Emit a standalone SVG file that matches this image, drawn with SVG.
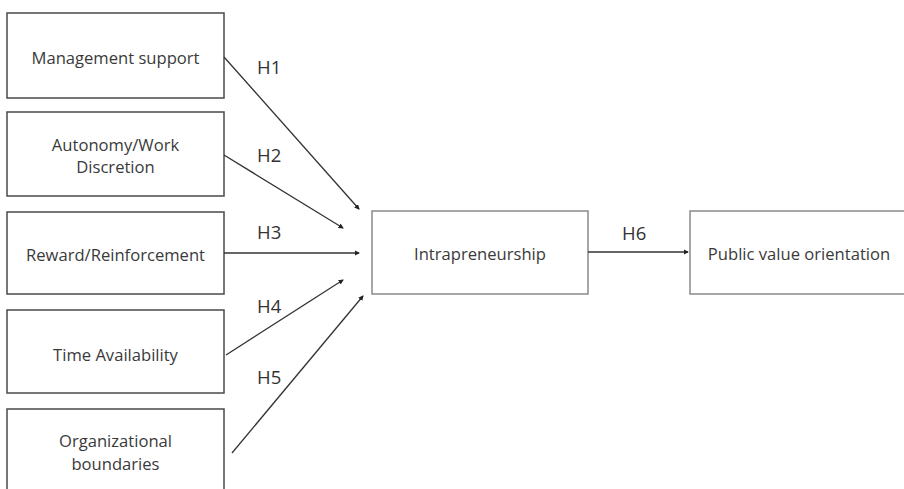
<svg xmlns="http://www.w3.org/2000/svg" width="904" height="489" viewBox="0 0 904 489">
<style>
.box{fill:#fff;stroke:#4a4a4a;stroke-width:1.5}
.box2{fill:#fff;stroke:#8a8a8a;stroke-width:1.5}
.t{font-family:"Open Sans",sans-serif;font-size:16.6px;fill:#3a3a3a;text-anchor:middle;dominant-baseline:central}
.h{font-family:"Open Sans",sans-serif;font-size:18.5px;fill:#333;}
.c{stroke:#333;stroke-width:1.3;fill:none;marker-end:url(#ah)}
</style>
<defs>
<marker id="ah" viewBox="0 0 6 6" refX="5" refY="3" markerWidth="4" markerHeight="4" orient="auto" markerUnits="strokeWidth">
<path d="M0,0 L6,3 L0,6 z" fill="#222"/>
</marker>
</defs>
<rect width="904" height="489" fill="#fff"/>
<g id="n1"><rect class="box" x="7" y="13" width="217" height="85"/><text class="t" x="115.5" y="57">Management support</text></g>
<g id="n2"><rect class="box" x="7" y="112" width="217" height="84"/><text class="t" x="115.5" y="144">Autonomy/Work</text><text class="t" x="115.5" y="166">Discretion</text></g>
<g id="n3"><rect class="box" x="7" y="212" width="217" height="82"/><text class="t" x="115.5" y="254">Reward/Reinforcement</text></g>
<g id="n4"><rect class="box" x="7" y="310" width="217" height="83"/><text class="t" x="115.5" y="354">Time Availability</text></g>
<g id="n5"><rect class="box" x="7" y="409" width="217" height="100"/><text class="t" x="115.5" y="440">Organizational</text><text class="t" x="115.5" y="463">boundaries</text></g>
<g id="n6"><rect class="box2" x="372" y="211" width="216" height="83"/><text class="t" x="480" y="253">Intrapreneurship</text></g>
<g id="n7"><rect class="box2" x="690" y="211" width="220" height="83"/><text class="t" x="799" y="253">Public value orientation</text></g>
<g id="connectors">
<line class="c" x1="224" y1="57" x2="359" y2="209"/>
<line class="c" x1="224" y1="155" x2="343" y2="228"/>
<line class="c" x1="224" y1="253" x2="359" y2="253"/>
<line class="c" x1="226" y1="355" x2="343" y2="280"/>
<line class="c" x1="232" y1="453" x2="363" y2="296"/>
<line class="c" x1="588" y1="252" x2="688" y2="252"/>
<text class="h" x="257" y="74">H1</text>
<text class="h" x="257" y="162">H2</text>
<text class="h" x="257" y="239">H3</text>
<text class="h" x="257" y="313">H4</text>
<text class="h" x="257" y="384">H5</text>
<text class="h" x="622" y="240">H6</text>
</g>
</svg>
